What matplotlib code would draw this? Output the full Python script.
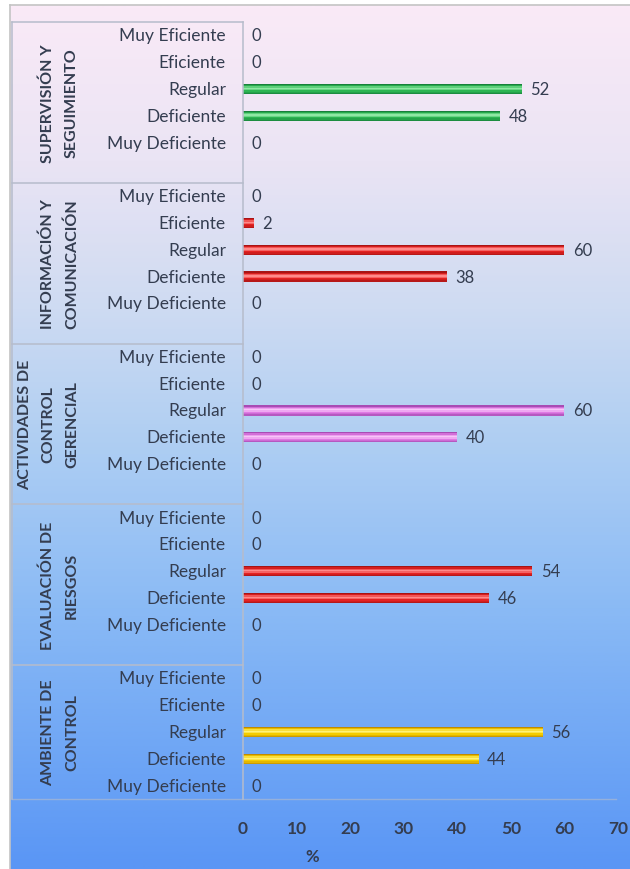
import numpy as np
import matplotlib
matplotlib.use("Agg")
import matplotlib.pyplot as plt
from matplotlib.colors import LinearSegmentedColormap
from matplotlib.transforms import blended_transform_factory

plt.rcParams['font.family'] = ['Lato', 'DejaVu Sans']

# ---- data -------------------------------------------------------------
group_labels = [
    ["SUPERVISIÓN Y", "SEGUIMIENTO"],
    ["INFORMACIÓN Y", "COMUNICACIÓN"],
    ["ACTIVIDADES DE", "CONTROL", "GERENCIAL"],
    ["EVALUACIÓN DE", "RIESGOS"],
    ["AMBIENTE DE", "CONTROL"],
]
categories = ["Muy Eficiente", "Eficiente", "Regular", "Deficiente", "Muy Deficiente"]

supervision = [0, 0, 52, 48, 0]
informacion = [0, 2, 60, 38, 0]
actividades = [0, 0, 60, 40, 0]
evaluacion = [0, 0, 54, 46, 0]
ambiente = [0, 0, 56, 44, 0]
group_values = [supervision, informacion, actividades, evaluacion, ambiente]

xticks = [0, 10, 20, 30, 40, 50, 60, 70]
x_label = "%"

# base colour of each group's bars (dark edge, body, highlight)
bar_styles = [
    ("#17803a", "#2cb552", "#8fe8a4"),
    ("#a81414", "#e42222", "#ff8a8a"),
    ("#a84cb4", "#e07ae4", "#f8c4f8"),
    ("#a81414", "#e42222", "#ff8a8a"),
    ("#c08a00", "#f4cc00", "#fff27a"),
]

W, H = 630, 870
fig = plt.figure(figsize=(W / 100, H / 100), dpi=100)
fig.patch.set_facecolor("white")


def fx(x):
    return x / W


def fy(y):
    return 1 - y / H


# ---- gradient background --------------------------------------------
bg = fig.add_axes([fx(10), 0, fx(620), 1 - 6 / H])
bg.set_axis_off()
stops = [
    (0.00, (250, 234, 247)),
    (0.18, (234, 228, 244)),
    (0.35, (206, 219, 242)),
    (0.52, (172, 205, 243)),
    (0.70, (138, 186, 245)),
    (0.86, (112, 167, 245)),
    (1.00, (90, 150, 245)),
]
cmap = LinearSegmentedColormap.from_list(
    "bg", [(p, tuple(c / 255 for c in rgb)) for p, rgb in stops])
grad = np.linspace(0, 1, 400).reshape(-1, 1)
bg.imshow(grad, aspect="auto", cmap=cmap, extent=[0, 1, 0, 1], origin="upper")
bg.set_xlim(0, 1)
bg.set_ylim(0, 1)
fig.add_artist(plt.Line2D([fx(10), 1], [fy(6), fy(6)], color="#c4c4c4", lw=1.2))
fig.add_artist(plt.Line2D([fx(10), fx(10)], [0, fy(6)], color="#c4c4c4", lw=1.2))

# ---- layout ------------------------------------------------------------
n_groups = len(group_values)
n_cats = len(categories)
slot = n_cats + 1
n_slots = n_groups * slot - 1
top_px, bot_px = 23, 800
x0_px, x1_px = 243, 618
left_px = 12

ax = fig.add_axes([fx(x0_px), fy(bot_px), fx(x1_px - x0_px), (bot_px - top_px) / H])
ax.patch.set_alpha(0)
ax.set_xlim(xticks[0], xticks[-1])
ax.set_ylim(n_slots - 0.5, -0.5)

lab = fig.add_axes([fx(left_px), fy(bot_px), fx(x0_px - left_px), (bot_px - top_px) / H],
                   sharey=ax)
lab.patch.set_alpha(0)
lab.set_xlim(0, 1)
lab.set_axis_off()

line_col = "#b6bccb"
text_col = "#343d50"

# ---- bars ---------------------------------------------------------------
bar_h = 0.38
profile = np.array([0.0, 0.45, 0.8, 1.0, 0.85, 0.6, 0.4, 0.15])  # highlight profile
n_strips = len(profile)
strip_h = bar_h / n_strips


def mix(c1, c2, t):
    a = np.array(matplotlib.colors.to_rgb(c1))
    b = np.array(matplotlib.colors.to_rgb(c2))
    return tuple(a + (b - a) * t)


for g, vals in enumerate(group_values):
    dark, body, light = bar_styles[g]
    ys = np.arange(n_cats) + g * slot
    for k, p in enumerate(profile):
        off = -bar_h / 2 + (k + 0.5) * strip_h
        col = mix(dark, body, p / 0.6) if p < 0.6 else mix(body, light, (p - 0.6) / 0.4)
        ax.barh(ys + off, vals, height=strip_h * 1.02, color=col, linewidth=0)
    for y, v in zip(ys, vals):
        ax.annotate(f"{v}", (v, y), xytext=(6, 0), textcoords="offset points",
                    ha="left", va="center", fontsize=12, color=text_col)

# ---- left label panel --------------------------------------------------
cat_t = blended_transform_factory(lab.transAxes, lab.transData)
for g, lines in enumerate(group_labels):
    ys = np.arange(n_cats) + g * slot
    for y, c in zip(ys, categories):
        lab.text((226 - left_px) / (x0_px - left_px), y, c, transform=cat_t,
                 ha="right", va="center", fontsize=12.5, color=text_col)
    g_top = g * slot - 0.5
    g_bot = min(g * slot + slot - 0.5, n_slots - 0.5)
    yc = (g_top + g_bot) / 2
    xs = [48, 72] if len(lines) == 2 else [25, 48, 72]
    for xp, t in zip(xs, lines):
        lab.text((xp - left_px) / (x0_px - left_px), yc, t, transform=cat_t,
                 rotation=90, ha="center", va="center", fontsize=11.5,
                 fontweight="bold", color=text_col)
    lab.plot([0, 1], [g_top, g_top], color=line_col, lw=1.1, clip_on=False)

lab.plot([0, 0], [-0.5, n_slots - 0.5], color=line_col, lw=1.1, clip_on=False)
lab.plot([0, (x1_px - left_px) / (x0_px - left_px) - 0.01],
         [n_slots - 0.5, n_slots - 0.5], color=line_col, lw=1.0, alpha=0.6, clip_on=False)

# ---- axis ---------------------------------------------------------------
for s in ["top", "right", "bottom"]:
    ax.spines[s].set_visible(False)
ax.spines["left"].set_color(line_col)
ax.spines["left"].set_linewidth(1.1)
ax.set_yticks([])
ax.set_xticks(xticks)
ax.set_xticklabels([str(t) for t in xticks], fontsize=12.5, color=text_col,
                   fontweight="bold")
ax.tick_params(axis="x", length=0, pad=15)
fig.text(fx(312), fy(857), x_label, ha="center", va="center", fontsize=12,
         fontweight="bold", color=text_col)

fig.savefig("out.png", dpi=100)
